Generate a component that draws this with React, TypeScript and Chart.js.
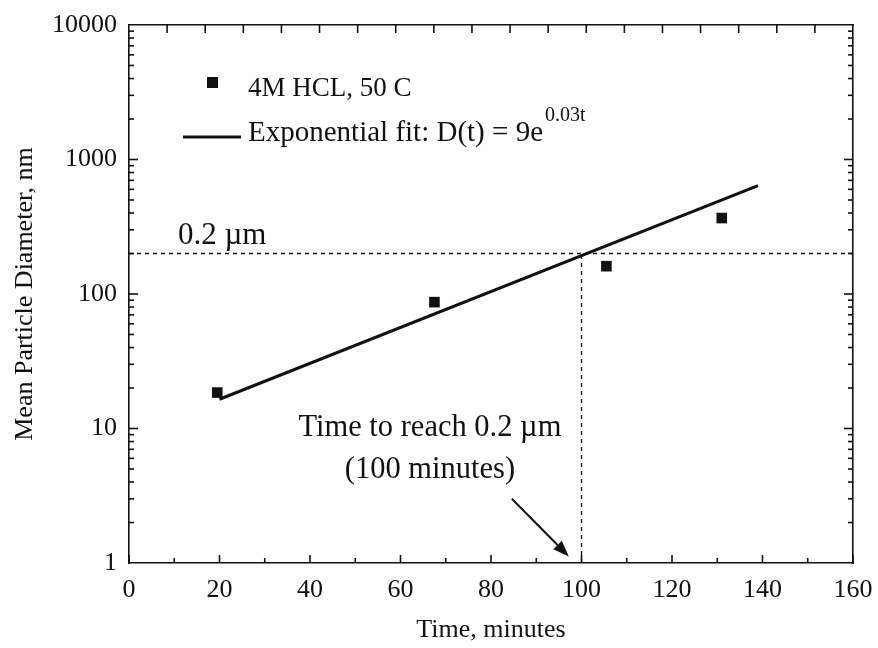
import React, { useEffect, useRef } from "react";
import { Chart, registerables } from "chart.js";

Chart.register(...registerables);

// ---- data ----
const sampleTimes = [19.5, 67.5, 105.5, 131];
const sampleDiameters = [18.5, 87, 161, 367];
const fitTimes = [20, 139];
const fitDiameters = [16.5, 640];
const targetDiameter = 200; // 0.2 µm in nm
const targetTime = 100;
const xTickValues = [0, 20, 40, 60, 80, 100, 120, 140, 160];
const xMinorValues = [10, 30, 50, 70, 90, 110, 130, 150];
const yTickValues = [1, 10, 100, 1000, 10000];
const topTickDivisions = 19;

const sampleLabel = "4M HCL, 50 C";
const fitLabel = "Exponential fit: D(t) = 9e";
const fitExponent = "0.03t";
const xTitle = "Time, minutes";
const yTitle = "Mean Particle Diameter, nm";
const levelLabel = "0.2 \u00B5m";
const noteLine1 = "Time to reach 0.2 \u00B5m";
const noteLine2 = "(100 minutes)";

const INK = "#111111";
const FONT = "'Liberation Serif', 'Times New Roman', serif";

const decorPlugin = {
  id: "decor",
  afterDraw(chart: any) {
    const { ctx, chartArea: ca, scales } = chart;
    const xs = scales.x;
    const ys = scales.y;
    const xt = scales.x2;
    ctx.save();
    ctx.strokeStyle = INK;
    ctx.fillStyle = INK;
    ctx.lineWidth = 1.6;
    const seg = (a: number, b: number, c: number, d: number) => {
      ctx.beginPath();
      ctx.moveTo(a, b);
      ctx.lineTo(c, d);
      ctx.stroke();
    };
    // bottom ticks (inward)
    xTickValues.forEach((v) => {
      const px = xs.getPixelForValue(v);
      seg(px, ca.bottom, px, ca.bottom - 8);
    });
    xMinorValues.forEach((v) => {
      const px = xs.getPixelForValue(v);
      seg(px, ca.bottom, px, ca.bottom - 5);
    });
    // top ticks
    for (let k = 1; k < topTickDivisions; k++) {
      const px = xt.getPixelForValue(k);
      seg(px, ca.top, px, ca.top + 8);
    }
    // left / right ticks
    for (let d = 1; d <= 1000; d *= 10) {
      for (let m = 1; m <= 9; m++) {
        const v = d * m;
        const py = ys.getPixelForValue(v);
        const len = m === 1 ? 9 : 5;
        if (v > 1) {
          seg(ca.left, py, ca.left + len, py);
          seg(ca.right, py, ca.right - len, py);
        }
      }
    }

    // legend
    const lx = ca.left;
    const ty = ca.top;
    ctx.fillRect(lx + 78, ty + 52, 11, 11);
    ctx.textBaseline = "alphabetic";
    ctx.textAlign = "left";
    ctx.font = `27px ${FONT}`;
    ctx.fillText(sampleLabel, lx + 119, ty + 71);
    ctx.lineWidth = 3;
    seg(lx + 54, ty + 112, lx + 112, ty + 112);
    ctx.font = `29px ${FONT}`;
    ctx.fillText(fitLabel, lx + 119, ty + 116);
    const w = ctx.measureText(fitLabel).width;
    ctx.font = `20px ${FONT}`;
    ctx.fillText(fitExponent, lx + 119 + w + 2, ty + 96);

    // level label
    ctx.font = `31px ${FONT}`;
    ctx.fillText(levelLabel, lx + 49, ys.getPixelForValue(targetDiameter) - 10);

    // note
    ctx.textAlign = "center";
    ctx.font = `30.5px ${FONT}`;
    const nx = xs.getPixelForValue(66.5);
    ctx.fillText(noteLine1, nx, ys.getPixelForValue(10) + 7);
    ctx.fillText(noteLine2, nx, ys.getPixelForValue(10) + 49);

    // arrow
    const ax1 = xs.getPixelForValue(84.6);
    const ay1 = ys.getPixelForValue(3.0);
    const ax2 = xs.getPixelForValue(97.2);
    const ay2 = ys.getPixelForValue(1.12);
    ctx.lineWidth = 2;
    const ang = Math.atan2(ay2 - ay1, ax2 - ax1);
    const hl = 16;
    const bx = ax2 - hl * Math.cos(ang);
    const by = ay2 - hl * Math.sin(ang);
    seg(ax1, ay1, bx, by);
    ctx.beginPath();
    ctx.moveTo(ax2, ay2);
    ctx.lineTo(bx + 6 * Math.sin(ang), by - 6 * Math.cos(ang));
    ctx.lineTo(bx - 6 * Math.sin(ang), by + 6 * Math.cos(ang));
    ctx.closePath();
    ctx.fill();
    ctx.restore();
  },
};

export default function App() {
  const ref = useRef<HTMLCanvasElement>(null);
  useEffect(() => {
    if (!ref.current) return;
    const chart = new Chart(ref.current, {
      type: "scatter",
      data: {
        datasets: [
          {
            label: "level",
            data: [
              { x: 0, y: targetDiameter },
              { x: 160, y: targetDiameter },
            ],
            showLine: true,
            borderColor: INK,
            borderWidth: 1.3,
            borderDash: [4, 4],
            pointRadius: 0,
          },
          {
            label: "target",
            data: [
              { x: targetTime, y: 1 },
              { x: targetTime, y: targetDiameter },
            ],
            showLine: true,
            borderColor: INK,
            borderWidth: 1.3,
            borderDash: [4, 4],
            pointRadius: 0,
          },
          {
            label: fitLabel,
            data: fitTimes.map((t, i) => ({ x: t, y: fitDiameters[i] })),
            showLine: true,
            borderColor: INK,
            borderWidth: 3,
            pointRadius: 0,
          },
          {
            label: sampleLabel,
            data: sampleTimes.map((t, i) => ({ x: t, y: sampleDiameters[i] })),
            showLine: false,
            pointStyle: "rect",
            pointRadius: 7.5,
            backgroundColor: INK,
            borderColor: INK,
            borderWidth: 0,
          },
        ],
      },
      plugins: [decorPlugin],
      options: {
        animation: false,
        responsive: false,
        layout: { padding: { top: 25, right: 25, left: 0, bottom: 0 } },
        plugins: { legend: { display: false }, tooltip: { enabled: false } },
        scales: {
          x: {
            type: "linear",
            position: "bottom",
            min: 0,
            max: 160,
            afterBuildTicks: (s: any) => {
              s.ticks = xTickValues.map((v) => ({ value: v }));
            },
            afterFit: (s: any) => {
              s.height = 85;
              s.paddingLeft = 0;
              s.paddingRight = 0;
            },
            grid: { display: false, drawTicks: false },
            border: { display: true, color: INK, width: 1.6 },
            ticks: {
              color: INK,
              padding: 12,
              maxRotation: 0,
              font: { family: FONT, size: 26 },
            },
            title: {
              display: true,
              text: xTitle,
              color: INK,
              font: { family: FONT, size: 26 },
              padding: { top: 0, bottom: 2 },
            },
          },
          x2: {
            type: "linear",
            position: "top",
            min: 0,
            max: topTickDivisions,
            afterFit: (s: any) => {
              s.height = 0;
              s.paddingLeft = 0;
              s.paddingRight = 0;
            },
            grid: { display: false, drawTicks: false },
            border: { display: true, color: INK, width: 1.6 },
            ticks: { display: false },
          },
          y: {
            type: "logarithmic",
            position: "left",
            min: 1,
            max: 10000,
            afterBuildTicks: (s: any) => {
              s.ticks = yTickValues.map((v) => ({ value: v }));
            },
            afterFit: (s: any) => {
              s.width = 129;
              s.paddingTop = 0;
              s.paddingBottom = 0;
            },
            grid: { display: false, drawTicks: false },
            border: { display: true, color: INK, width: 1.6 },
            ticks: {
              color: INK,
              padding: 12,
              font: { family: FONT, size: 26 },
              callback: (v: any) => String(v),
            },
            title: {
              display: true,
              text: yTitle,
              color: INK,
              font: { family: FONT, size: 26 },
              padding: { top: 10, bottom: 0 },
            },
          },
          y2: {
            type: "logarithmic",
            position: "right",
            min: 1,
            max: 10000,
            afterFit: (s: any) => {
              s.width = 0;
              s.paddingTop = 0;
              s.paddingBottom = 0;
            },
            grid: { display: false, drawTicks: false },
            border: { display: true, color: INK, width: 1.6 },
            ticks: { display: false },
          },
        },
      },
    });
    return () => chart.destroy();
  }, []);
  return (
    <div style={{ position: "absolute", left: 0, top: 0, width: 878, height: 648, background: "#fff" }}>
      <canvas ref={ref} width={878} height={648} />
    </div>
  );
}
